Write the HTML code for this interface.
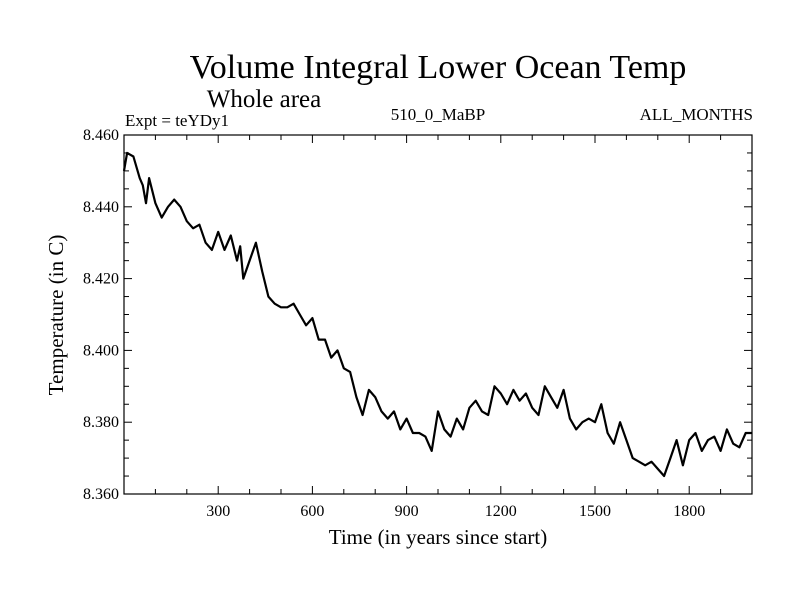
<!DOCTYPE html>
<html><head><meta charset="utf-8"><style>
html,body{margin:0;padding:0;background:#fff}
svg{display:block;font-family:"Liberation Serif",serif}
</style></head><body>
<svg id="chart" width="800" height="600">
<text x="438" y="78" font-size="34" text-anchor="middle">Volume Integral Lower Ocean Temp</text>
<text x="264" y="107" font-size="25" text-anchor="middle">Whole area</text>
<text x="125" y="126" font-size="17">Expt = teYDy1</text>
<text x="438" y="120" font-size="17" text-anchor="middle">510_0_MaBP</text>
<text x="753" y="120" font-size="17" text-anchor="end">ALL_MONTHS</text>
<text x="438" y="544" font-size="21" text-anchor="middle">Time (in years since start)</text>
<text transform="translate(63,315) rotate(-90)" font-size="21" text-anchor="middle">Temperature (in C)</text>
<g id="axes"></g>
<path id="line" fill="none" stroke="#000" stroke-width="2.2" stroke-linejoin="round"></path>
<rect x="124" y="135" width="628" height="359" fill="none" stroke="#000" stroke-width="1.2"></rect>
</svg>
<script>
const years=[0,10,30,50,60,70,80,100,120,140,160,180,200,220,240,260,280,300,320,340,360,370,380,400,420,440,460,480,500,520,540,560,580,600,620,640,660,680,700,720,740,760,780,800,820,840,860,880,900,920,940,960,980,1000,1020,1040,1060,1080,1100,1120,1140,1160,1180,1200,1220,1240,1260,1280,1300,1320,1340,1360,1380,1400,1420,1440,1460,1480,1500,1520,1540,1560,1580,1600,1620,1640,1660,1680,1700,1720,1740,1760,1780,1800,1820,1840,1860,1880,1900,1920,1940,1960,1980,2000];
const temps=[8.450,8.455,8.454,8.448,8.446,8.441,8.448,8.441,8.437,8.440,8.442,8.440,8.436,8.434,8.435,8.430,8.428,8.433,8.428,8.432,8.425,8.429,8.420,8.425,8.430,8.422,8.415,8.413,8.412,8.412,8.413,8.410,8.407,8.409,8.403,8.403,8.398,8.400,8.395,8.394,8.387,8.382,8.389,8.387,8.383,8.381,8.383,8.378,8.381,8.377,8.377,8.376,8.372,8.383,8.378,8.376,8.381,8.378,8.384,8.386,8.383,8.382,8.390,8.388,8.385,8.389,8.386,8.388,8.384,8.382,8.390,8.387,8.384,8.389,8.381,8.378,8.380,8.381,8.380,8.385,8.377,8.374,8.380,8.375,8.370,8.369,8.368,8.369,8.367,8.365,8.370,8.375,8.368,8.375,8.377,8.372,8.375,8.376,8.372,8.378,8.374,8.373,8.377,8.377];
const xTicks=[300,600,900,1200,1500,1800];
const yTicks=[8.360,8.380,8.400,8.420,8.440,8.460];
const X0=124,X1=752,Y0=494,Y1=135;
const xs=v=>X0+(v-0)/(2000-0)*(X1-X0);
const ys=v=>Y0-(v-8.36)/(0.1)*(Y0-Y1);
const ns="http://www.w3.org/2000/svg";
const g=document.getElementById('axes');
function ln(x1,y1,x2,y2,name){const l=document.createElementNS(ns,'line');l.setAttribute('x1',x1);l.setAttribute('y1',y1);l.setAttribute('x2',x2);l.setAttribute('y2',y2);l.setAttribute('stroke','#000');l.setAttribute('stroke-width','1');


g.appendChild(l);}
function tx(x,y,s,anchor,name){const t=document.createElementNS(ns,'text');t.setAttribute('x',x);t.setAttribute('y',y);t.setAttribute('font-size','16');t.setAttribute('text-anchor',anchor);t.textContent=s;


g.appendChild(t);}
for(let v=100;v<2000;v+=100){const x=xs(v);const major=v%300===0;const L=major?8:5;ln(x,Y0,x,Y0-L,'x-tick');ln(x,Y1,x,Y1+L,'x-tick');}
for(let i=1;i<20;i++){const v=8.36+i*0.005;const y=ys(v);const major=i%4===0;const L=major?8:5;ln(X0,y,X0+L,y,'y-tick');ln(X1,y,X1-L,y,'y-tick');}
xTicks.forEach(v=>tx(xs(v),516,String(v),'middle','x-tick-label'));
yTicks.forEach(v=>tx(X0-5,ys(v)+5,v.toFixed(3),'end','y-tick-label'));
document.getElementById('line').setAttribute('d',years.map((y,i)=>(i?'L':'M')+xs(y).toFixed(1)+','+ys(temps[i]).toFixed(1)).join(''));
</script>
</body></html>
